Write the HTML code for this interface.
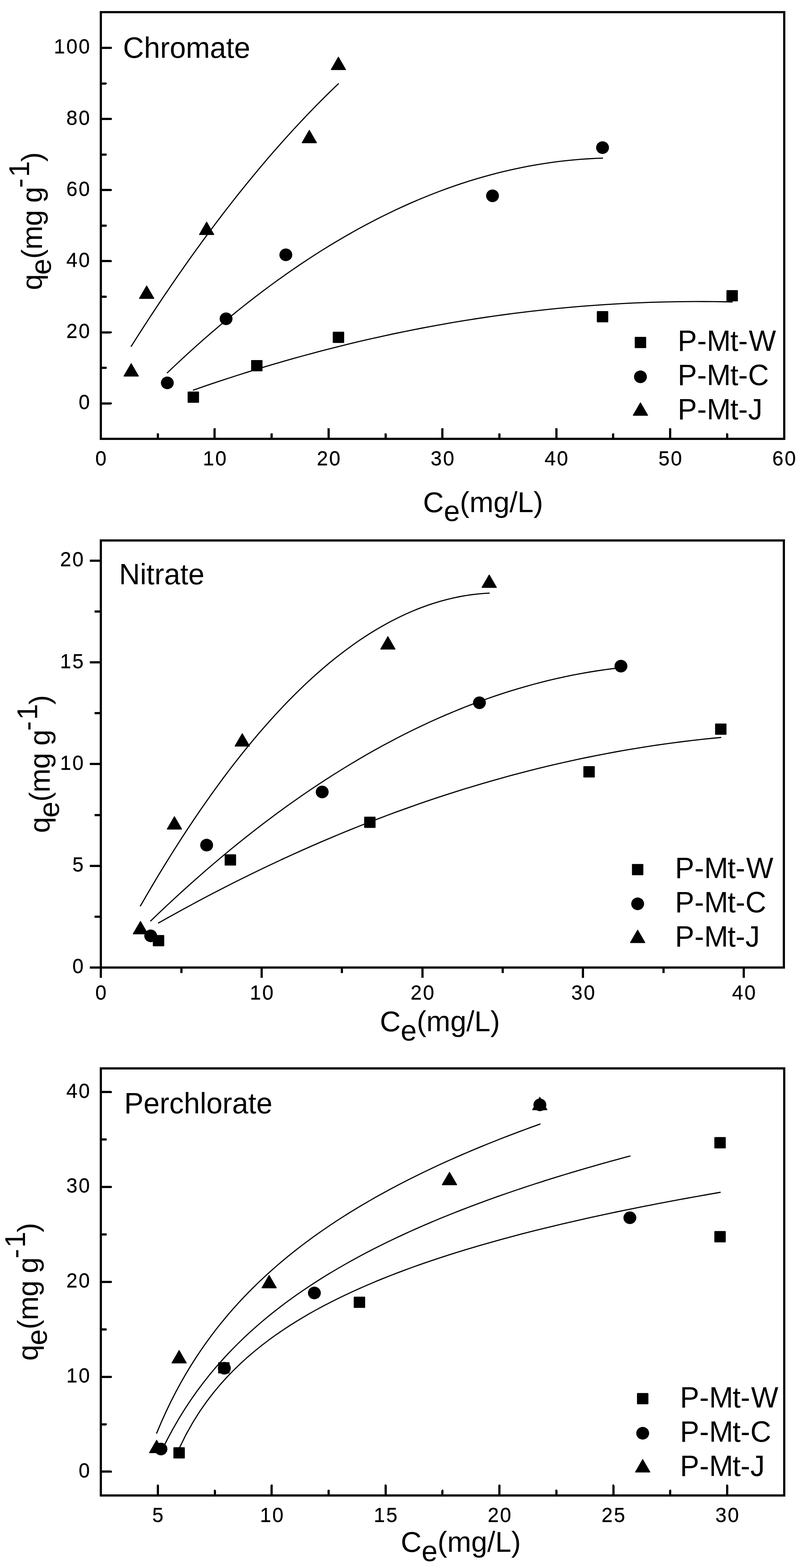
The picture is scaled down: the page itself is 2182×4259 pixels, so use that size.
<!DOCTYPE html>
<html lang="en"><head><meta charset="utf-8"><title>Adsorption isotherms</title>
<style>
html,body{margin:0;padding:0;background:#fff;}
body{width:2182px;height:4259px;overflow:hidden;}
svg{display:block;}
text{font-family:'Liberation Sans', sans-serif;fill:#000;}
</style></head><body>
<svg width="2182" height="4259" viewBox="0 0 2182 4259">
<rect width="2182" height="4259" fill="#fff"/>
<g>
<path d="M525.30 1059.61 L550.12 1051.00 L574.93 1042.54 L599.75 1034.24 L624.57 1026.10 L649.38 1018.12 L674.20 1010.29 L699.02 1002.62 L723.84 995.10 L748.65 987.75 L773.47 980.55 L798.29 973.50 L823.10 966.62 L847.92 959.89 L872.74 953.32 L897.55 946.90 L922.37 940.64 L947.19 934.54 L972.01 928.60 L996.82 922.81 L1021.64 917.18 L1046.46 911.71 L1071.27 906.39 L1096.09 901.24 L1120.91 896.23 L1145.72 891.39 L1170.54 886.70 L1195.36 882.17 L1220.17 877.80 L1244.99 873.58 L1269.81 869.52 L1294.63 865.62 L1319.44 861.87 L1344.26 858.29 L1369.08 854.85 L1393.89 851.58 L1418.71 848.46 L1443.53 845.50 L1468.34 842.70 L1493.16 840.05 L1517.98 837.56 L1542.79 835.23 L1567.61 833.06 L1592.43 831.04 L1617.25 829.18 L1642.06 827.47 L1666.88 825.93 L1691.70 824.54 L1716.51 823.30 L1741.33 822.23 L1766.15 821.31 L1790.96 820.55 L1815.78 819.94 L1840.60 819.49 L1865.42 819.20 L1890.23 819.07 L1915.05 819.09 L1939.87 819.27 L1964.68 819.61 L1989.50 820.10" fill="none" stroke="#000" stroke-width="3.10" stroke-linecap="round" stroke-linejoin="round"/>
<path d="M454.70 1012.50 L474.74 993.50 L494.79 974.82 L514.83 956.44 L534.88 938.39 L554.92 920.65 L574.96 903.22 L595.01 886.10 L615.05 869.31 L635.10 852.82 L655.14 836.65 L675.18 820.80 L695.23 805.25 L715.27 790.03 L735.32 775.12 L755.36 760.52 L775.41 746.23 L795.45 732.27 L815.49 718.61 L835.54 705.27 L855.58 692.25 L875.63 679.53 L895.67 667.14 L915.71 655.06 L935.76 643.29 L955.80 631.84 L975.85 620.70 L995.89 609.87 L1015.93 599.36 L1035.98 589.17 L1056.02 579.29 L1076.07 569.72 L1096.11 560.47 L1116.15 551.53 L1136.20 542.91 L1156.24 534.60 L1176.29 526.60 L1196.33 518.92 L1216.37 511.56 L1236.42 504.51 L1256.46 497.77 L1276.51 491.35 L1296.55 485.24 L1316.59 479.45 L1336.64 473.97 L1356.68 468.80 L1376.73 463.95 L1396.77 459.42 L1416.82 455.20 L1436.86 451.29 L1456.90 447.70 L1476.95 444.42 L1496.99 441.46 L1517.04 438.81 L1537.08 436.47 L1557.12 434.45 L1577.17 432.75 L1597.21 431.36 L1617.26 430.28 L1637.30 429.52" fill="none" stroke="#000" stroke-width="3.10" stroke-linecap="round" stroke-linejoin="round"/>
<path d="M356.50 940.79 L366.04 925.73 L375.58 910.77 L385.13 895.91 L394.67 881.16 L404.21 866.51 L413.75 851.96 L423.30 837.52 L432.84 823.17 L442.38 808.93 L451.92 794.80 L461.47 780.76 L471.01 766.83 L480.55 753.00 L490.09 739.27 L499.64 725.64 L509.18 712.12 L518.72 698.70 L528.26 685.38 L537.81 672.16 L547.35 659.05 L556.89 646.04 L566.43 633.13 L575.97 620.33 L585.52 607.62 L595.06 595.02 L604.60 582.52 L614.14 570.13 L623.69 557.83 L633.23 545.64 L642.77 533.55 L652.31 521.57 L661.86 509.68 L671.40 497.90 L680.94 486.22 L690.48 474.64 L700.03 463.17 L709.57 451.80 L719.11 440.53 L728.65 429.36 L738.19 418.30 L747.74 407.34 L757.28 396.48 L766.82 385.72 L776.36 375.06 L785.91 364.51 L795.45 354.06 L804.99 343.72 L814.53 333.47 L824.08 323.33 L833.62 313.29 L843.16 303.35 L852.70 293.52 L862.25 283.78 L871.79 274.15 L881.33 264.63 L890.87 255.20 L900.42 245.88 L909.96 236.66 L919.50 227.54" fill="none" stroke="#000" stroke-width="3.10" stroke-linecap="round" stroke-linejoin="round"/>
<g fill="#000">
<polygon points="356.50,987.73 337.05,1021.43 375.95,1021.43" stroke="#000" stroke-width="2.4" stroke-linejoin="round"/>
<polygon points="398.50,776.73 379.05,810.43 417.95,810.43" stroke="#000" stroke-width="2.4" stroke-linejoin="round"/>
<polygon points="561.50,603.33 542.05,637.03 580.95,637.03" stroke="#000" stroke-width="2.4" stroke-linejoin="round"/>
<polygon points="840.50,354.03 821.05,387.73 859.95,387.73" stroke="#000" stroke-width="2.4" stroke-linejoin="round"/>
<polygon points="919.50,155.33 900.05,189.03 938.95,189.03" stroke="#000" stroke-width="2.4" stroke-linejoin="round"/>
<ellipse cx="454.70" cy="1040.00" rx="17.50" ry="17.15"/>
<ellipse cx="614.30" cy="865.80" rx="17.50" ry="17.15"/>
<ellipse cx="776.70" cy="692.20" rx="17.50" ry="17.15"/>
<ellipse cx="1338.30" cy="531.80" rx="17.50" ry="17.15"/>
<ellipse cx="1637.30" cy="401.00" rx="17.50" ry="17.15"/>
<rect x="509.80" y="1063.40" width="31.00" height="30.60" rx="1.5"/>
<rect x="682.30" y="977.90" width="31.00" height="30.60" rx="1.5"/>
<rect x="904.20" y="901.00" width="31.00" height="30.60" rx="1.5"/>
<rect x="1621.80" y="845.00" width="31.00" height="30.60" rx="1.5"/>
<rect x="1974.00" y="788.00" width="31.00" height="30.60" rx="1.5"/>
</g>
<rect x="274.00" y="33.00" width="1856.50" height="1159.00" fill="none" stroke="#000" stroke-width="6" shape-rendering="crispEdges"/>
<g stroke="#000" stroke-width="6" stroke-linecap="round" shape-rendering="crispEdges">
<line x1="274.00" y1="1095.60" x2="301.00" y2="1095.60"/>
<line x1="274.00" y1="902.50" x2="301.00" y2="902.50"/>
<line x1="274.00" y1="709.40" x2="301.00" y2="709.40"/>
<line x1="274.00" y1="516.30" x2="301.00" y2="516.30"/>
<line x1="274.00" y1="323.20" x2="301.00" y2="323.20"/>
<line x1="274.00" y1="130.10" x2="301.00" y2="130.10"/>
<line x1="274.00" y1="999.05" x2="287.00" y2="999.05"/>
<line x1="274.00" y1="805.95" x2="287.00" y2="805.95"/>
<line x1="274.00" y1="612.85" x2="287.00" y2="612.85"/>
<line x1="274.00" y1="419.75" x2="287.00" y2="419.75"/>
<line x1="274.00" y1="226.65" x2="287.00" y2="226.65"/>
<line x1="583.42" y1="1192.00" x2="583.42" y2="1165.50"/>
<line x1="892.83" y1="1192.00" x2="892.83" y2="1165.50"/>
<line x1="1202.25" y1="1192.00" x2="1202.25" y2="1165.50"/>
<line x1="1511.67" y1="1192.00" x2="1511.67" y2="1165.50"/>
<line x1="1821.08" y1="1192.00" x2="1821.08" y2="1165.50"/>
<line x1="428.71" y1="1192.00" x2="428.71" y2="1179.50"/>
<line x1="738.12" y1="1192.00" x2="738.12" y2="1179.50"/>
<line x1="1047.54" y1="1192.00" x2="1047.54" y2="1179.50"/>
<line x1="1356.96" y1="1192.00" x2="1356.96" y2="1179.50"/>
<line x1="1666.38" y1="1192.00" x2="1666.38" y2="1179.50"/>
<line x1="1975.79" y1="1192.00" x2="1975.79" y2="1179.50"/>
</g>
<text transform="translate(244.00 1110.90) scale(1.0000 1.0200)" font-size="54.30" stroke="#000" stroke-width="0.40" x="-30.20">0</text>
<text transform="translate(244.00 917.80) scale(1.0000 1.0200)" font-size="54.30" stroke="#000" stroke-width="0.40" x="-63.80 -30.20">20</text>
<text transform="translate(244.00 724.70) scale(1.0000 1.0200)" font-size="54.30" stroke="#000" stroke-width="0.40" x="-63.80 -30.20">40</text>
<text transform="translate(244.00 531.60) scale(1.0000 1.0200)" font-size="54.30" stroke="#000" stroke-width="0.40" x="-63.80 -30.20">60</text>
<text transform="translate(244.00 338.50) scale(1.0000 1.0200)" font-size="54.30" stroke="#000" stroke-width="0.40" x="-63.80 -30.20">80</text>
<text transform="translate(244.00 145.40) scale(1.0000 1.0200)" font-size="54.30" stroke="#000" stroke-width="0.40" x="-97.40 -63.80 -30.20">100</text>
<text transform="translate(274.00 1263.70) scale(1.0000 1.0200)" font-size="54.30" stroke="#000" stroke-width="0.40" x="-15.10">0</text>
<text transform="translate(583.42 1263.70) scale(1.0000 1.0200)" font-size="54.30" stroke="#000" stroke-width="0.40" x="-31.90 1.70">10</text>
<text transform="translate(892.83 1263.70) scale(1.0000 1.0200)" font-size="54.30" stroke="#000" stroke-width="0.40" x="-31.90 1.70">20</text>
<text transform="translate(1202.25 1263.70) scale(1.0000 1.0200)" font-size="54.30" stroke="#000" stroke-width="0.40" x="-31.90 1.70">30</text>
<text transform="translate(1511.67 1263.70) scale(1.0000 1.0200)" font-size="54.30" stroke="#000" stroke-width="0.40" x="-31.90 1.70">40</text>
<text transform="translate(1821.08 1263.70) scale(1.0000 1.0200)" font-size="54.30" stroke="#000" stroke-width="0.40" x="-31.90 1.70">50</text>
<text transform="translate(2130.50 1263.70) scale(1.0000 1.0200)" font-size="54.30" stroke="#000" stroke-width="0.40" x="-31.90 1.70">60</text>
<text transform="translate(334.30 156.50) scale(1.0060 1.0150)" font-size="78.30" text-anchor="start">Chromate</text>
<g fill="#000">
<rect x="1724.80" y="914.90" width="31.00" height="30.60" rx="1.5"/>
<ellipse cx="1740.30" cy="1023.50" rx="17.50" ry="17.15"/>
<polygon points="1740.30,1094.33 1720.85,1128.03 1759.75,1128.03" stroke="#000" stroke-width="2.4" stroke-linejoin="round"/>
</g>
<text transform="translate(1841.50 953.40) scale(1.0000 1.0180)" font-size="78.30" x="0.00 52.73 79.10 142.92 164.48 193.15">P-Mt-W</text>
<text transform="translate(1841.50 1046.10) scale(1.0000 1.0180)" font-size="78.30" x="0.00 52.73 79.10 142.92 164.48 191.15">P-Mt-C</text>
<text transform="translate(1841.50 1139.40) scale(1.0000 1.0180)" font-size="78.30" x="0.00 52.73 79.10 142.92 164.48 191.15">P-Mt-J</text>
<text x="1149.50" y="1390.70" font-size="78.30">C<tspan dy="24.6">e</tspan><tspan dy="-24.6">(mg/L)</tspan></text>
<text transform="translate(113.80 788.10) rotate(-90)" font-size="78.30" x="0.0 41.8 85.1 110.0 174.3 218.0 237.4 277.6 307.0 348.5" dy="0.0 24.6 -24.6 0.0 0.0 0.0 0.0 -34.5 0.0 34.5">qe(mg g-1)</text>
</g>
<g>
<path d="M430.80 2506.97 L456.69 2492.40 L482.59 2478.04 L508.48 2463.88 L534.38 2449.93 L560.27 2436.19 L586.17 2422.66 L612.06 2409.33 L637.96 2396.22 L663.85 2383.31 L689.75 2370.61 L715.64 2358.12 L741.54 2345.83 L767.43 2333.76 L793.33 2321.89 L819.22 2310.23 L845.12 2298.78 L871.01 2287.53 L896.91 2276.50 L922.80 2265.67 L948.70 2255.05 L974.59 2244.64 L1000.49 2234.43 L1026.38 2224.43 L1052.28 2214.65 L1078.17 2205.07 L1104.07 2195.69 L1129.96 2186.53 L1155.86 2177.57 L1181.75 2168.83 L1207.65 2160.29 L1233.54 2151.95 L1259.44 2143.83 L1285.33 2135.91 L1311.23 2128.21 L1337.12 2120.70 L1363.02 2113.41 L1388.91 2106.33 L1414.81 2099.45 L1440.70 2092.78 L1466.60 2086.32 L1492.49 2080.07 L1518.39 2074.03 L1544.28 2068.19 L1570.18 2062.56 L1596.07 2057.14 L1621.97 2051.93 L1647.86 2046.93 L1673.76 2042.13 L1699.65 2037.54 L1725.55 2033.16 L1751.44 2028.99 L1777.34 2025.03 L1803.23 2021.27 L1829.13 2017.72 L1855.02 2014.38 L1880.92 2011.25 L1906.81 2008.33 L1932.71 2005.61 L1958.60 2003.11" fill="none" stroke="#000" stroke-width="3.10" stroke-linecap="round" stroke-linejoin="round"/>
<path d="M409.50 2501.44 L431.16 2480.67 L452.82 2460.22 L474.47 2440.08 L496.13 2420.25 L517.79 2400.74 L539.45 2381.54 L561.10 2362.66 L582.76 2344.09 L604.42 2325.83 L626.08 2307.89 L647.73 2290.26 L669.39 2272.95 L691.05 2255.95 L712.71 2239.27 L734.36 2222.90 L756.02 2206.84 L777.68 2191.10 L799.34 2175.67 L820.99 2160.55 L842.65 2145.75 L864.31 2131.27 L885.97 2117.10 L907.63 2103.24 L929.28 2089.69 L950.94 2076.46 L972.60 2063.55 L994.26 2050.95 L1015.91 2038.66 L1037.57 2026.69 L1059.23 2015.03 L1080.89 2003.68 L1102.54 1992.65 L1124.20 1981.94 L1145.86 1971.53 L1167.52 1961.44 L1189.17 1951.67 L1210.83 1942.21 L1232.49 1933.06 L1254.15 1924.23 L1275.81 1915.71 L1297.46 1907.51 L1319.12 1899.62 L1340.78 1892.05 L1362.44 1884.78 L1384.09 1877.84 L1405.75 1871.20 L1427.41 1864.89 L1449.07 1858.88 L1470.72 1853.19 L1492.38 1847.81 L1514.04 1842.75 L1535.70 1838.00 L1557.35 1833.57 L1579.01 1829.45 L1600.67 1825.64 L1622.33 1822.15 L1643.98 1818.97 L1665.64 1816.11 L1687.30 1813.56" fill="none" stroke="#000" stroke-width="3.10" stroke-linecap="round" stroke-linejoin="round"/>
<path d="M381.70 2460.52 L397.76 2432.73 L413.82 2405.41 L429.88 2378.54 L445.94 2352.14 L462.01 2326.20 L478.07 2300.72 L494.13 2275.71 L510.19 2251.15 L526.25 2227.06 L542.31 2203.43 L558.37 2180.26 L574.43 2157.55 L590.49 2135.30 L606.55 2113.52 L622.62 2092.19 L638.68 2071.33 L654.74 2050.93 L670.80 2030.99 L686.86 2011.51 L702.92 1992.50 L718.98 1973.94 L735.04 1955.85 L751.10 1938.22 L767.16 1921.05 L783.23 1904.34 L799.29 1888.10 L815.35 1872.31 L831.41 1856.99 L847.47 1842.13 L863.53 1827.73 L879.59 1813.79 L895.65 1800.31 L911.71 1787.30 L927.77 1774.74 L943.84 1762.65 L959.90 1751.02 L975.96 1739.85 L992.02 1729.15 L1008.08 1718.90 L1024.14 1709.12 L1040.20 1699.79 L1056.26 1690.93 L1072.32 1682.54 L1088.38 1674.60 L1104.45 1667.12 L1120.51 1660.11 L1136.57 1653.56 L1152.63 1647.46 L1168.69 1641.83 L1184.75 1636.67 L1200.81 1631.96 L1216.87 1627.72 L1232.93 1623.93 L1248.99 1620.61 L1265.06 1617.75 L1281.12 1615.35 L1297.18 1613.42 L1313.24 1611.94 L1329.30 1610.93" fill="none" stroke="#000" stroke-width="3.10" stroke-linecap="round" stroke-linejoin="round"/>
<g fill="#000">
<polygon points="381.70,2502.73 362.25,2536.43 401.15,2536.43" stroke="#000" stroke-width="2.4" stroke-linejoin="round"/>
<polygon points="474.00,2218.33 454.55,2252.03 493.45,2252.03" stroke="#000" stroke-width="2.4" stroke-linejoin="round"/>
<polygon points="658.30,1992.73 638.85,2026.43 677.75,2026.43" stroke="#000" stroke-width="2.4" stroke-linejoin="round"/>
<polygon points="1054.00,1729.33 1034.55,1763.03 1073.45,1763.03" stroke="#000" stroke-width="2.4" stroke-linejoin="round"/>
<polygon points="1329.30,1561.73 1309.85,1595.43 1348.75,1595.43" stroke="#000" stroke-width="2.4" stroke-linejoin="round"/>
<ellipse cx="409.50" cy="2542.00" rx="17.50" ry="17.15"/>
<ellipse cx="561.50" cy="2295.50" rx="17.50" ry="17.15"/>
<ellipse cx="875.50" cy="2151.20" rx="17.50" ry="17.15"/>
<ellipse cx="1302.70" cy="1908.80" rx="17.50" ry="17.15"/>
<ellipse cx="1687.30" cy="1809.30" rx="17.50" ry="17.15"/>
<rect x="415.30" y="2539.70" width="31.00" height="30.60" rx="1.5"/>
<rect x="610.50" y="2320.50" width="31.00" height="30.60" rx="1.5"/>
<rect x="989.50" y="2218.20" width="31.00" height="30.60" rx="1.5"/>
<rect x="1585.20" y="2081.10" width="31.00" height="30.60" rx="1.5"/>
<rect x="1943.10" y="1965.20" width="31.00" height="30.60" rx="1.5"/>
</g>
<rect x="274.20" y="1468.00" width="1856.00" height="1159.80" fill="none" stroke="#000" stroke-width="6" shape-rendering="crispEdges"/>
<g stroke="#000" stroke-width="6" stroke-linecap="butt" shape-rendering="crispEdges">
<line x1="274.20" y1="2627.80" x2="244.20" y2="2627.80"/>
<line x1="274.20" y1="2351.60" x2="244.20" y2="2351.60"/>
<line x1="274.20" y1="2075.40" x2="244.20" y2="2075.40"/>
<line x1="274.20" y1="1799.20" x2="244.20" y2="1799.20"/>
<line x1="274.20" y1="1523.00" x2="244.20" y2="1523.00"/>
<line x1="274.20" y1="2489.70" x2="257.20" y2="2489.70"/>
<line x1="274.20" y1="2213.50" x2="257.20" y2="2213.50"/>
<line x1="274.20" y1="1937.30" x2="257.20" y2="1937.30"/>
<line x1="274.20" y1="1661.10" x2="257.20" y2="1661.10"/>
<line x1="274.20" y1="2627.80" x2="274.20" y2="2655.80"/>
<line x1="710.95" y1="2627.80" x2="710.95" y2="2655.80"/>
<line x1="1147.70" y1="2627.80" x2="1147.70" y2="2655.80"/>
<line x1="1584.45" y1="2627.80" x2="1584.45" y2="2655.80"/>
<line x1="2021.20" y1="2627.80" x2="2021.20" y2="2655.80"/>
<line x1="492.57" y1="2627.80" x2="492.57" y2="2642.80"/>
<line x1="929.33" y1="2627.80" x2="929.33" y2="2642.80"/>
<line x1="1366.08" y1="2627.80" x2="1366.08" y2="2642.80"/>
<line x1="1802.83" y1="2627.80" x2="1802.83" y2="2642.80"/>
</g>
<text transform="translate(227.00 2643.20) scale(1.0000 1.0200)" font-size="54.30" stroke="#000" stroke-width="0.40" x="-30.20">0</text>
<text transform="translate(227.00 2367.00) scale(1.0000 1.0200)" font-size="54.30" stroke="#000" stroke-width="0.40" x="-30.20">5</text>
<text transform="translate(227.00 2090.80) scale(1.0000 1.0200)" font-size="54.30" stroke="#000" stroke-width="0.40" x="-63.80 -30.20">10</text>
<text transform="translate(227.00 1814.60) scale(1.0000 1.0200)" font-size="54.30" stroke="#000" stroke-width="0.40" x="-63.80 -30.20">15</text>
<text transform="translate(227.00 1538.40) scale(1.0000 1.0200)" font-size="54.30" stroke="#000" stroke-width="0.40" x="-63.80 -30.20">20</text>
<text transform="translate(274.20 2715.00) scale(1.0000 1.0200)" font-size="54.30" stroke="#000" stroke-width="0.40" x="-15.10">0</text>
<text transform="translate(710.95 2715.00) scale(1.0000 1.0200)" font-size="54.30" stroke="#000" stroke-width="0.40" x="-31.90 1.70">10</text>
<text transform="translate(1147.70 2715.00) scale(1.0000 1.0200)" font-size="54.30" stroke="#000" stroke-width="0.40" x="-31.90 1.70">20</text>
<text transform="translate(1584.45 2715.00) scale(1.0000 1.0200)" font-size="54.30" stroke="#000" stroke-width="0.40" x="-31.90 1.70">30</text>
<text transform="translate(2021.20 2715.00) scale(1.0000 1.0200)" font-size="54.30" stroke="#000" stroke-width="0.40" x="-31.90 1.70">40</text>
<text transform="translate(323.50 1587.00) scale(1.0060 1.0150)" font-size="78.30" text-anchor="start">Nitrate</text>
<g fill="#000">
<rect x="1717.20" y="2346.70" width="31.00" height="30.60" rx="1.5"/>
<ellipse cx="1732.70" cy="2455.00" rx="17.50" ry="17.15"/>
<polygon points="1732.70,2526.53 1713.25,2560.23 1752.15,2560.23" stroke="#000" stroke-width="2.4" stroke-linejoin="round"/>
</g>
<text transform="translate(1834.30 2385.00) scale(1.0000 1.0180)" font-size="78.30" x="0.00 52.73 79.10 142.92 164.48 193.15">P-Mt-W</text>
<text transform="translate(1834.30 2478.00) scale(1.0000 1.0180)" font-size="78.30" x="0.00 52.73 79.10 142.92 164.48 191.15">P-Mt-C</text>
<text transform="translate(1834.30 2571.40) scale(1.0000 1.0180)" font-size="78.30" x="0.00 52.73 79.10 142.92 164.48 191.15">P-Mt-J</text>
<text x="1032.30" y="2801.00" font-size="78.30">C<tspan dy="24.6">e</tspan><tspan dy="-24.6">(mg/L)</tspan></text>
<text transform="translate(135.20 2262.60) rotate(-90)" font-size="78.30" x="0.0 41.8 85.1 110.0 174.3 218.0 237.4 277.6 307.0 348.5" dy="0.0 24.6 -24.6 0.0 0.0 0.0 0.0 -34.5 0.0 34.5">qe(mg g-1)</text>
</g>
<g>
<path d="M486.70 3934.57 L505.31 3896.88 L523.92 3863.76 L542.53 3834.20 L561.15 3807.52 L579.76 3783.21 L598.37 3760.87 L616.98 3740.22 L635.59 3721.02 L654.20 3703.07 L672.81 3686.22 L691.43 3670.35 L710.04 3655.34 L728.65 3641.12 L747.26 3627.59 L765.87 3614.70 L784.48 3602.39 L803.09 3590.61 L821.71 3579.31 L840.32 3568.46 L858.93 3558.02 L877.54 3547.96 L896.15 3538.26 L914.76 3528.89 L933.37 3519.84 L951.98 3511.07 L970.60 3502.57 L989.21 3494.32 L1007.82 3486.32 L1026.43 3478.54 L1045.04 3470.98 L1063.65 3463.62 L1082.26 3456.46 L1100.88 3449.47 L1119.49 3442.66 L1138.10 3436.02 L1156.71 3429.53 L1175.32 3423.19 L1193.93 3416.99 L1212.54 3410.93 L1231.16 3405.01 L1249.77 3399.20 L1268.38 3393.52 L1286.99 3387.95 L1305.60 3382.50 L1324.21 3377.15 L1342.82 3371.90 L1361.44 3366.75 L1380.05 3361.69 L1398.66 3356.73 L1417.27 3351.86 L1435.88 3347.07 L1454.49 3342.36 L1473.10 3337.73 L1491.72 3333.18 L1510.33 3328.70 L1528.94 3324.29 L1547.55 3319.96 L1566.16 3315.69 L1584.77 3311.49 L1603.38 3307.35 L1621.99 3303.27 L1640.61 3299.25 L1659.22 3295.29 L1677.83 3291.39 L1696.44 3287.54 L1715.05 3283.74 L1733.66 3280.00 L1752.27 3276.30 L1770.89 3272.66 L1789.50 3269.06 L1808.11 3265.51 L1826.72 3262.01 L1845.33 3258.54 L1863.94 3255.13 L1882.55 3251.75 L1901.17 3248.42 L1919.78 3245.12 L1938.39 3241.87 L1957.00 3238.65" fill="none" stroke="#000" stroke-width="3.10" stroke-linecap="round" stroke-linejoin="round"/>
<path d="M438.20 3942.68 L454.32 3910.21 L470.45 3880.24 L486.57 3852.42 L502.70 3826.46 L518.82 3802.12 L534.94 3779.22 L551.07 3757.59 L567.19 3737.10 L583.32 3717.63 L599.44 3699.10 L615.56 3681.41 L631.69 3664.49 L647.81 3648.27 L663.94 3632.70 L680.06 3617.73 L696.18 3603.32 L712.31 3589.42 L728.43 3576.01 L744.56 3563.04 L760.68 3550.49 L776.81 3538.33 L792.93 3526.54 L809.05 3515.09 L825.18 3503.98 L841.30 3493.17 L857.43 3482.66 L873.55 3472.42 L889.67 3462.44 L905.80 3452.72 L921.92 3443.23 L938.05 3433.97 L954.17 3424.92 L970.29 3416.08 L986.42 3407.43 L1002.54 3398.98 L1018.67 3390.70 L1034.79 3382.60 L1050.91 3374.66 L1067.04 3366.88 L1083.16 3359.25 L1099.29 3351.77 L1115.41 3344.43 L1131.53 3337.23 L1147.66 3330.16 L1163.78 3323.21 L1179.91 3316.39 L1196.03 3309.68 L1212.15 3303.09 L1228.28 3296.60 L1244.40 3290.23 L1260.53 3283.95 L1276.65 3277.78 L1292.77 3271.70 L1308.90 3265.72 L1325.02 3259.83 L1341.15 3254.02 L1357.27 3248.30 L1373.39 3242.66 L1389.52 3237.11 L1405.64 3231.63 L1421.77 3226.23 L1437.89 3220.90 L1454.02 3215.64 L1470.14 3210.46 L1486.26 3205.34 L1502.39 3200.29 L1518.51 3195.30 L1534.64 3190.38 L1550.76 3185.52 L1566.88 3180.72 L1583.01 3175.97 L1599.13 3171.29 L1615.26 3166.66 L1631.38 3162.08 L1647.50 3157.56 L1663.63 3153.09 L1679.75 3148.67 L1695.88 3144.30 L1712.00 3139.98" fill="none" stroke="#000" stroke-width="3.10" stroke-linecap="round" stroke-linejoin="round"/>
<path d="M425.70 3892.87 L438.88 3861.64 L452.07 3832.50 L465.25 3805.19 L478.44 3779.49 L491.62 3755.22 L504.81 3732.24 L517.99 3710.40 L531.18 3689.61 L544.36 3669.76 L557.55 3650.78 L570.73 3632.59 L583.92 3615.13 L597.10 3598.35 L610.29 3582.18 L623.47 3566.60 L636.66 3551.55 L649.84 3537.01 L663.03 3522.93 L676.21 3509.30 L689.40 3496.08 L702.58 3483.25 L715.77 3470.78 L728.95 3458.66 L742.14 3446.87 L755.32 3435.40 L768.51 3424.21 L781.69 3413.31 L794.87 3402.67 L808.06 3392.28 L821.24 3382.14 L834.43 3372.23 L847.61 3362.54 L860.80 3353.06 L873.98 3343.78 L887.17 3334.69 L900.35 3325.79 L913.54 3317.07 L926.72 3308.52 L939.91 3300.14 L953.09 3291.91 L966.28 3283.83 L979.46 3275.91 L992.65 3268.12 L1005.83 3260.47 L1019.02 3252.95 L1032.20 3245.56 L1045.39 3238.29 L1058.57 3231.15 L1071.76 3224.11 L1084.94 3217.19 L1098.13 3210.38 L1111.31 3203.67 L1124.49 3197.07 L1137.68 3190.56 L1150.86 3184.15 L1164.05 3177.83 L1177.23 3171.60 L1190.42 3165.46 L1203.60 3159.41 L1216.79 3153.44 L1229.97 3147.54 L1243.16 3141.73 L1256.34 3136.00 L1269.53 3130.33 L1282.71 3124.75 L1295.90 3119.23 L1309.08 3113.78 L1322.27 3108.40 L1335.45 3103.08 L1348.64 3097.83 L1361.82 3092.64 L1375.01 3087.51 L1388.19 3082.44 L1401.38 3077.43 L1414.56 3072.48 L1427.75 3067.58 L1440.93 3062.74 L1454.12 3057.95 L1467.30 3053.21" fill="none" stroke="#000" stroke-width="3.10" stroke-linecap="round" stroke-linejoin="round"/>
<g fill="#000">
<polygon points="425.70,3912.03 406.25,3945.73 445.15,3945.73" stroke="#000" stroke-width="2.4" stroke-linejoin="round"/>
<polygon points="486.70,3668.33 467.25,3702.03 506.15,3702.03" stroke="#000" stroke-width="2.4" stroke-linejoin="round"/>
<polygon points="731.30,3464.33 711.85,3498.03 750.75,3498.03" stroke="#000" stroke-width="2.4" stroke-linejoin="round"/>
<polygon points="1221.40,3184.23 1201.95,3217.93 1240.85,3217.93" stroke="#000" stroke-width="2.4" stroke-linejoin="round"/>
<polygon points="1466.80,2980.53 1447.35,3014.23 1486.25,3014.23" stroke="#000" stroke-width="2.4" stroke-linejoin="round"/>
<ellipse cx="437.40" cy="3935.80" rx="17.50" ry="17.15"/>
<ellipse cx="609.60" cy="3716.40" rx="17.50" ry="17.15"/>
<ellipse cx="854.30" cy="3512.00" rx="17.50" ry="17.15"/>
<ellipse cx="1711.60" cy="3307.70" rx="17.50" ry="17.15"/>
<ellipse cx="1467.00" cy="3001.00" rx="17.50" ry="17.15"/>
<rect x="471.20" y="3931.00" width="31.00" height="30.60" rx="1.5"/>
<rect x="592.80" y="3699.90" width="31.00" height="30.60" rx="1.5"/>
<rect x="961.20" y="3522.00" width="31.00" height="30.60" rx="1.5"/>
<rect x="1941.10" y="3088.60" width="31.00" height="30.60" rx="1.5"/>
<rect x="1941.10" y="3343.80" width="31.00" height="30.60" rx="1.5"/>
</g>
<rect x="274.20" y="2902.00" width="1856.30" height="1159.80" fill="none" stroke="#000" stroke-width="6" shape-rendering="crispEdges"/>
<g stroke="#000" stroke-width="6" stroke-linecap="round" shape-rendering="crispEdges">
<line x1="274.20" y1="3997.44" x2="301.20" y2="3997.44"/>
<line x1="274.20" y1="3739.69" x2="301.20" y2="3739.69"/>
<line x1="274.20" y1="3481.94" x2="301.20" y2="3481.94"/>
<line x1="274.20" y1="3224.19" x2="301.20" y2="3224.19"/>
<line x1="274.20" y1="2966.44" x2="301.20" y2="2966.44"/>
<line x1="274.20" y1="3868.56" x2="287.20" y2="3868.56"/>
<line x1="274.20" y1="3610.81" x2="287.20" y2="3610.81"/>
<line x1="274.20" y1="3353.06" x2="287.20" y2="3353.06"/>
<line x1="274.20" y1="3095.31" x2="287.20" y2="3095.31"/>
<line x1="428.90" y1="4061.80" x2="428.90" y2="4035.30"/>
<line x1="738.30" y1="4061.80" x2="738.30" y2="4035.30"/>
<line x1="1047.70" y1="4061.80" x2="1047.70" y2="4035.30"/>
<line x1="1357.10" y1="4061.80" x2="1357.10" y2="4035.30"/>
<line x1="1666.50" y1="4061.80" x2="1666.50" y2="4035.30"/>
<line x1="1975.90" y1="4061.80" x2="1975.90" y2="4035.30"/>
<line x1="583.60" y1="4061.80" x2="583.60" y2="4049.30"/>
<line x1="893.00" y1="4061.80" x2="893.00" y2="4049.30"/>
<line x1="1202.40" y1="4061.80" x2="1202.40" y2="4049.30"/>
<line x1="1511.80" y1="4061.80" x2="1511.80" y2="4049.30"/>
<line x1="1821.20" y1="4061.80" x2="1821.20" y2="4049.30"/>
</g>
<text transform="translate(244.00 4012.64) scale(1.0000 1.0200)" font-size="54.30" stroke="#000" stroke-width="0.40" x="-30.20">0</text>
<text transform="translate(244.00 3754.89) scale(1.0000 1.0200)" font-size="54.30" stroke="#000" stroke-width="0.40" x="-63.80 -30.20">10</text>
<text transform="translate(244.00 3497.14) scale(1.0000 1.0200)" font-size="54.30" stroke="#000" stroke-width="0.40" x="-63.80 -30.20">20</text>
<text transform="translate(244.00 3239.39) scale(1.0000 1.0200)" font-size="54.30" stroke="#000" stroke-width="0.40" x="-63.80 -30.20">30</text>
<text transform="translate(244.00 2981.64) scale(1.0000 1.0200)" font-size="54.30" stroke="#000" stroke-width="0.40" x="-63.80 -30.20">40</text>
<text transform="translate(428.90 4134.20) scale(1.0000 1.0200)" font-size="54.30" stroke="#000" stroke-width="0.40" x="-15.10">5</text>
<text transform="translate(738.30 4134.20) scale(1.0000 1.0200)" font-size="54.30" stroke="#000" stroke-width="0.40" x="-31.90 1.70">10</text>
<text transform="translate(1047.70 4134.20) scale(1.0000 1.0200)" font-size="54.30" stroke="#000" stroke-width="0.40" x="-31.90 1.70">15</text>
<text transform="translate(1357.10 4134.20) scale(1.0000 1.0200)" font-size="54.30" stroke="#000" stroke-width="0.40" x="-31.90 1.70">20</text>
<text transform="translate(1666.50 4134.20) scale(1.0000 1.0200)" font-size="54.30" stroke="#000" stroke-width="0.40" x="-31.90 1.70">25</text>
<text transform="translate(1975.90 4134.20) scale(1.0000 1.0200)" font-size="54.30" stroke="#000" stroke-width="0.40" x="-31.90 1.70">30</text>
<text transform="translate(337.50 3024.20) scale(1.0060 1.0150)" font-size="78.30" text-anchor="start">Perchlorate</text>
<g fill="#000">
<rect x="1730.90" y="3783.70" width="31.00" height="30.60" rx="1.5"/>
<ellipse cx="1746.40" cy="3893.00" rx="17.50" ry="17.15"/>
<polygon points="1746.40,3964.53 1726.95,3998.23 1765.85,3998.23" stroke="#000" stroke-width="2.4" stroke-linejoin="round"/>
</g>
<text transform="translate(1847.80 3823.00) scale(1.0000 1.0180)" font-size="78.30" x="0.00 52.73 79.10 142.92 164.48 193.15">P-Mt-W</text>
<text transform="translate(1847.80 3916.40) scale(1.0000 1.0180)" font-size="78.30" x="0.00 52.73 79.10 142.92 164.48 191.15">P-Mt-C</text>
<text transform="translate(1847.80 4009.20) scale(1.0000 1.0180)" font-size="78.30" x="0.00 52.73 79.10 142.92 164.48 191.15">P-Mt-J</text>
<text x="1089.00" y="4215.00" font-size="78.30">C<tspan dy="24.6">e</tspan><tspan dy="-24.6">(mg/L)</tspan></text>
<text transform="translate(102.80 3695.90) rotate(-90)" font-size="78.30" x="0.0 41.8 85.1 110.0 174.3 218.0 237.4 277.6 307.0 348.5" dy="0.0 24.6 -24.6 0.0 0.0 0.0 0.0 -34.5 0.0 34.5">qe(mg g-1)</text>
</g>
</svg>
</body></html>
